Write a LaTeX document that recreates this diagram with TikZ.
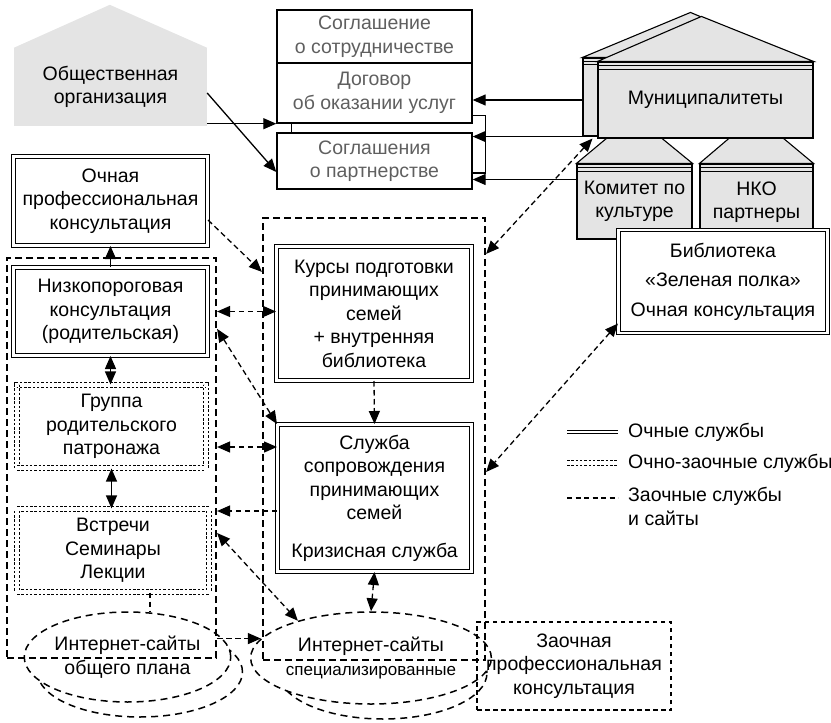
\documentclass[tikz,border=0pt]{standalone}
\usepackage{fontspec}
\setmainfont{Liberation Sans}
\usetikzlibrary{arrows.meta, positioning, shapes.geometric}
\definecolor{bldgGray}{HTML}{E4E4E4}
\definecolor{agrGray}{HTML}{5F5F5F}

\begin{document}
\begin{tikzpicture}[
    x=1pt, y=-1pt,
    every node/.style={align=center, inner sep=0pt, font=\fontsize{19.5}{23.5}\selectfont},
    sz/.style 2 args={minimum width=#1pt, minimum height=#2pt},
    rect/.style={draw, rectangle, line width=1.4pt},
    agr/.style={rect, text=agrGray},
    dblrect/.style={draw, rectangle, fill=white, double, double distance=2.2pt, line width=1pt},
    dotrect/.style={draw, rectangle, double, double distance=3.6pt, line width=1.2pt, dash pattern=on 2.5pt off 1.8pt},
    grpbox/.style={draw, rectangle, line width=2.2pt, dash pattern=on 7pt off 4pt},
    elpse/.style={draw, ellipse, fill=white, line width=1.5pt, dash pattern=on 7pt off 5pt},
    webbox/.style={draw, rectangle, line width=1.5pt, dash pattern=on 4.5pt off 3.5pt},
    bldg/.style={draw, fill=bldgGray, line width=1.1pt},
    arr/.style={-{Triangle[length=13pt, width=11pt]}, line width=1.3pt},
    biarr/.style={{Triangle[length=13pt, width=11pt]}-{Triangle[length=13pt, width=11pt]}, line width=1.3pt},
    dlink/.style={line width=1.8pt, dash pattern=on 5.5pt off 3.5pt}
]
\useasboundingbox (0,0) rectangle (831,723);

% Public organisation
\node[fill=bldgGray, sz={193}{78}] (publicOrg) at (110.5,87) {Общественная\\организация};
\fill[bldgGray] (publicOrg.north west) -- ++(96,-43) -- (publicOrg.north east) -- cycle;

% Agreements
\node[agr, sz={195}{53}] (coopAgr) at (374.5,36.5) {Соглашение\\о сотрудничестве};
\node[agr, sz={195}{60}] (serviceContract) at (374.5,93) {Договор\\об оказании услуг};
\node[agr, sz={195}{56}] (partnerAgr) at (374.5,161) {Соглашения\\о партнерстве};

% Municipal buildings
\node[bldg, sz={115}{75}] (cultureCom) at (634.5,201.5) {Комитет по\\культуре};
\filldraw[bldg] (cultureCom.north west) -- ++(57.5,-48) -- (cultureCom.north east) -- cycle;
\draw ([yshift=-4pt]cultureCom.north west) -- ([yshift=-4pt]cultureCom.north east);
\draw ([yshift=-8pt]cultureCom.north west) -- ([yshift=-8pt]cultureCom.north east);
\node[bldg, sz={113}{76}] (ngoPartners) at (756.5,202) {НКО\\партнеры};
\filldraw[bldg] (ngoPartners.north west) -- ++(56.5,-48) -- (ngoPartners.north east) -- cycle;
\draw ([yshift=-4pt]ngoPartners.north west) -- ([yshift=-4pt]ngoPartners.north east);
\draw ([yshift=-8pt]ngoPartners.north west) -- ([yshift=-8pt]ngoPartners.north east);
\node[bldg, sz={117}{78}] (muniBack) at (641.5,97) {};
\filldraw[bldg] (muniBack.north west) -- ++(108,-45) -- ++(108,45) -- cycle;
\draw ([yshift=-4pt]muniBack.north west) -- ([yshift=-4pt]muniBack.north east);
\draw ([yshift=-7pt]muniBack.north west) -- ([yshift=-7pt]muniBack.north east);
\node[bldg, sz={215}{76}, text width=190pt] (municip) at (705.5,100) {Муниципалитеты};
\filldraw[bldg] (municip.north west) -- ++(104,-45) -- (municip.north east) -- cycle;
\draw ([yshift=-4pt]municip.north west) -- ([yshift=-4pt]municip.north east);
\draw ([yshift=-8pt]municip.north west) -- ([yshift=-8pt]municip.north east);
\node[dblrect, sz={209}{103}] (library) at (723,281.5) {Библиотека\\[6pt]«Зеленая полка»\\[6pt]Очная консультация};

% Left column
\node[dblrect, sz={194}{89}] (fullConsult) at (110.5,201) {Очная\\профессиональная\\консультация};
\node[dblrect, sz={194}{88}] (lowConsult) at (110.5,311.5) {Низкопороговая\\консультация\\(родительская)};
\node[dotrect, sz={189}{83}] (parentGroup) at (111.5,426.5) {Группа\\родительского\\патронажа};
\node[dotrect, sz={192}{83}] (meetings) at (113,550.5) {Встречи\\Семинары\\Лекции};

% Middle column
\node[dblrect, sz={195}{134}] (courses) at (374,313.5) {Курсы подготовки\\принимающих\\семей\\+ внутренняя\\библиотека};
\node[dblrect, sz={194}{147}] (support) at (374.5,498) {Служба\\сопровождения\\принимающих\\семей\\[14pt]Кризисная служба};

% Web sites
\node[elpse, sz={205}{90}] (generalSitesB) at (140,672) {};
\node[elpse, sz={205}{90}] (generalSites) at (127.5,657) {Интернет-сайты\\общего плана};
\node[elpse, sz={208}{92}] (specSitesB) at (383,673) {};
\node[elpse, sz={208}{92}] (specSites) at (371,658) {Интернет-сайты\\{\fontsize{17}{20}\selectfont специализированные}};
\node[webbox, sz={194}{88}] (remoteConsult) at (574,666) {Заочная\\профессиональная\\консультация};

% Groups
\node[grpbox, sz={209}{400}] (leftGroup) at (111.5,458) {};
\node[grpbox, sz={222}{442}] (midGroup) at (374,439) {};

% Legend
\node[anchor=west] (legFull) at (628,432) {Очные службы};
\node[anchor=west] (legMixed) at (628,463) {Очно-заочные службы};
\node[anchor=north west, align=left] (legRemote) at (628,487) {Заочные службы\\и сайты};
\draw[double, double distance=2.2pt, line width=1pt] ([xshift=-61pt]legFull.west) -- ([xshift=-10pt]legFull.west);
\draw[double, double distance=3.6pt, line width=1.2pt, dash pattern=on 2.5pt off 1.8pt] ([xshift=-61pt]legMixed.west) -- ([xshift=-10pt]legMixed.west);
\draw[line width=1.5pt, dash pattern=on 5pt off 3.5pt] ([xshift=-61pt, yshift=-11pt]legRemote.north west) -- ([xshift=-10pt, yshift=-11pt]legRemote.north west);

% Agreement edges
\draw[arr] (publicOrg.east |- serviceContract.south) -- (serviceContract.south west);
\draw[arr] ([yshift=-6pt]publicOrg.east) -- ([yshift=-11pt]partnerAgr.west);
\draw[line width=1.4pt] ([xshift=15pt]serviceContract.south west) -- ([xshift=15pt]partnerAgr.north west);
\draw[line width=1.4pt] ([yshift=8pt]serviceContract.south east) -- ++(13,0) |- ([yshift=-12pt]partnerAgr.east);
\draw[arr] ([yshift=-3pt]muniBack.west) -- ([yshift=-3pt]muniBack.west -| serviceContract.east);
\draw[arr] (muniBack.south west) -- (muniBack.south west -| partnerAgr.east);
\draw[arr] ([yshift=22pt]cultureCom.west) -- ([yshift=22pt]cultureCom.west -| partnerAgr.east);

% Right edges
\draw[dlink, biarr] ([xshift=-5pt]municip.south west) -- ([yshift=-37pt]midGroup.north east);
\draw[dlink, biarr] ([yshift=10pt]library.south west) -- ([yshift=-33pt]midGroup.east);

% Left edges
\draw[arr] (lowConsult.north) -- (fullConsult.south);
\draw[biarr] (lowConsult.south) -- (lowConsult.south |- parentGroup.north);
\draw[biarr] (parentGroup.south) -- (parentGroup.south |- meetings.north);
\draw[dlink] ([xshift=37pt]meetings.south) -- ([xshift=22.5pt]generalSites.north);

% Cross edges
\draw[dlink, arr] ([yshift=-19pt]fullConsult.east) -- ([yshift=-55pt]midGroup.north west);
\draw[dlink, biarr] (lowConsult.east -| leftGroup.east) -- (lowConsult.east -| courses.west);
\draw[dlink, biarr] ([yshift=-72pt]leftGroup.north east) -- (support.north west);
\draw[dlink, biarr] ([yshift=11pt]leftGroup.east) -- ([yshift=51pt]support.west);
\draw[dlink, arr] ([yshift=-13pt]support.west) -- ([yshift=-53pt]leftGroup.east);
\draw[dlink, biarr] ([yshift=-75pt]leftGroup.east) -- (specSites.153);
\draw[dlink, arr] (leftGroup.east |- specSites.170) -- (specSites.170);
\draw[dlink, arr] (courses.south) -- (support.north);
\draw[dlink, biarr] (support.south) -- (specSites.north);
\end{tikzpicture}
\end{document}
